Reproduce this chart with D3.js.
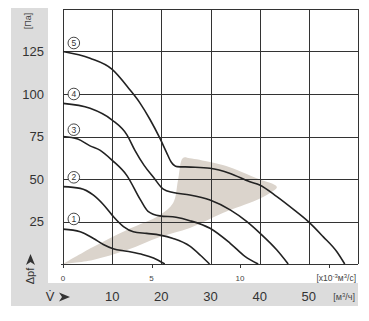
<!DOCTYPE html>
<html><head><meta charset="utf-8">
<script src="https://cdn.jsdelivr.net/npm/d3@7"></script>
<style>
html,body{margin:0;padding:0;background:#fff;}
svg{display:block;font-family:"Liberation Sans",Arial,sans-serif;}
</style></head>
<body>
<svg id="c" width="369" height="321"></svg>
<script>
// ---- data (x in m³/h, y in Pa) ----
const curveNames = ["1","2","3","4","5"];
const curve1 = [[0,20.5],[3.5,19],[6.2,15],[8.2,11.5],[10.2,9],[13,7.5],[16.3,5.5],[18.4,3.5],[20.7,0]];
const curve2 = [[0,45.5],[3.5,44.5],[6.2,40.5],[8.2,35],[10.2,28],[12.3,22],[14.3,19],[17,18],[19.7,17],[22.4,15],[25.8,10.5],[28,5],[29.8,0]];
const curve3 = [[0,75],[3,73.5],[5.5,69.5],[7.5,67],[10,61],[13,52],[15.7,38],[17.3,31],[19.7,28.3],[23,27.5],[25.8,25.5],[29.9,21],[34,12.2],[37,4.5],[39.7,0]];
const curve4 = [[0,94.5],[5.5,91.6],[10,84.7],[13,76],[14.6,67],[16.5,58],[18.4,51],[20.4,44],[22.4,42],[25.8,40.6],[29.9,37.6],[34,31.8],[37.4,24.9],[40.1,18],[43.5,8.2],[45.8,0]];
const curve5 = [[0,125],[5.5,121],[10,114.5],[13.6,102.5],[15.7,94.5],[17.7,85],[19.7,74],[21,66],[22,60],[23.2,57.3],[26,57],[29.9,56.3],[34,53.3],[38,48.4],[40,46.5],[43.5,39.6],[47,31.8],[49.9,24.9],[52.9,16.1],[55.7,7.2],[57.3,0]];
const curves = [curve1, curve2, curve3, curve4, curve5];
const labelPos = [[2.2,26.5],[2.2,51],[2.2,79],[2.2,100],[2.2,130]];
// operating range band
const band = [[0,0],[6.1,10],[13,20],[19.7,28.8],[22.4,35.9],[23.4,49.4],[24.4,62.4],[25.8,62.2],[29.9,60],[32.5,58.2],[35.4,55.3],[39.4,50.4],[43.5,45.3],[42.1,41.8],[39.4,37.6],[32.5,30],[25.8,21.2],[19.7,15.9],[13,8.2],[6.1,2.4],[0,0]];
const yTicks = [25,50,75,100,125];
const xGrid = [0,10,20,30,40,50,60];
const yGrid = [0,25,50,75,100,125,150];
const m3hLabels = [10,20,30,40,50];
const lsTicks = [0,5,10,15];
const lsLabels = ["0","5","10"];

const svg = d3.select("#c");
const L=63,R=358,T=9,B=264;
const x = d3.scaleLinear().domain([0,60]).range([L,R]);
const y = d3.scaleLinear().domain([0,150]).range([B,T]);
const xs = d3.scaleLinear().domain([0,60/3.6]).range([L,R]);

// gray frame background (L-shape)
svg.append("path")
  .attr("d",`M11,8 H48 V283 H358 V306 H11 Z`)
  .attr("fill","#dcdcdc");

// band
svg.append("path").datum(band)
  .attr("d", d3.line().x(d=>x(d[0])).y(d=>y(d[1])).curve(d3.curveCatmullRomClosed.alpha(0.5)))
  .attr("fill","#dbd4cc");

// grid
const g = svg.append("g").attr("stroke","#333").attr("stroke-width",1).attr("shape-rendering","crispEdges");
g.selectAll(".vx").data(xGrid).join("line")
  .attr("x1",d=>Math.round(x(d))+0.5).attr("x2",d=>Math.round(x(d))+0.5)
  .attr("y1",T).attr("y2",B);
g.selectAll(".hy").data(yGrid).join("line")
  .attr("y1",d=>Math.round(y(d))+0.5).attr("y2",d=>Math.round(y(d))+0.5)
  .attr("x1",L).attr("x2",R);
// axis extension
g.append("line").attr("x1",L-2).attr("x2",L).attr("y1",B+0.5).attr("y2",B+0.5);
g.append("line").attr("x1",L+0.5).attr("x2",L+0.5).attr("y1",B).attr("y2",B+2);
// l/s ticks
g.selectAll(".t").data(lsTicks).join("line")
  .attr("x1",d=>Math.round(xs(d))+0.5).attr("x2",d=>Math.round(xs(d))+0.5)
  .attr("y1",B).attr("y2",B+4);

// curves
const line = d3.line().x(d=>x(d[0])).y(d=>y(d[1])).curve(d3.curveMonotoneX);
svg.selectAll(".curve").data(curves).join("path")
  .attr("d",line).attr("fill","none").attr("stroke","#222").attr("stroke-width",1.6);

// curve labels
const lg = svg.selectAll(".lbl").data(labelPos).join("g")
  .attr("transform",d=>`translate(${x(d[0])},${y(d[1])})`);
lg.append("circle").attr("r",5.8).attr("fill","#fff").attr("stroke","#333").attr("stroke-width",0.9);
lg.append("text").text((d,i)=>curveNames[i]).attr("text-anchor","middle").attr("dy","0.35em")
  .attr("font-size",8.5).attr("fill","#333");

// y labels
svg.selectAll(".yl").data(yTicks).join("text")
  .attr("x",44).attr("y",d=>y(d)).attr("dy","0.36em").attr("text-anchor","end")
  .attr("font-size",13).attr("fill","#333").text(d=>d);

// l/s labels
svg.selectAll(".xl").data(lsLabels).join("text")
  .attr("x",(d,i)=>xs(lsTicks[i])).attr("y",281).attr("text-anchor","middle")
  .attr("font-size",8).attr("fill","#444").text(d=>d);
svg.append("text").attr("x",356).attr("y",281).attr("text-anchor","end")
  .attr("font-size",8.5).attr("fill","#444").html("[x10<tspan dy='-3' font-size='6'>-3</tspan><tspan dy='3'>м</tspan><tspan dy='-3' font-size='6'>3</tspan><tspan dy='3'>/с]</tspan>");

// m3/h labels
svg.selectAll(".ml").data(m3hLabels).join("text")
  .attr("x",d=>x(d)).attr("y",301).attr("text-anchor","middle")
  .attr("font-size",13).attr("fill","#333").text(d=>d);
svg.append("text").attr("x",355).attr("y",300).attr("text-anchor","end")
  .attr("font-size",9).attr("fill","#444").html("[м<tspan dy='-3' font-size='6'>3</tspan><tspan dy='3'>/ч]</tspan>");

// V dot and arrow
svg.append("text").attr("x",50).attr("y",301).attr("text-anchor","middle")
  .attr("font-size",13).attr("fill","#333").text("V\u0307");
svg.append("path").attr("d","M59,292.5 L70,297 L59,301.5 L62,297 Z").attr("fill","#333");

// Pa unit and Δp label (rotated)
svg.append("text").attr("transform","translate(31,21) rotate(-90)").attr("text-anchor","middle")
  .attr("font-size",9).attr("fill","#444").text("[Па]");
svg.append("text").attr("transform","translate(34,276) rotate(-90)").attr("text-anchor","middle")
  .attr("font-size",11).attr("fill","#333").text("Δpf");
svg.append("path").attr("d","M30.5,254 L35,265 L30.5,262 L26,265 Z").attr("fill","#333");
</script>
</body></html>
